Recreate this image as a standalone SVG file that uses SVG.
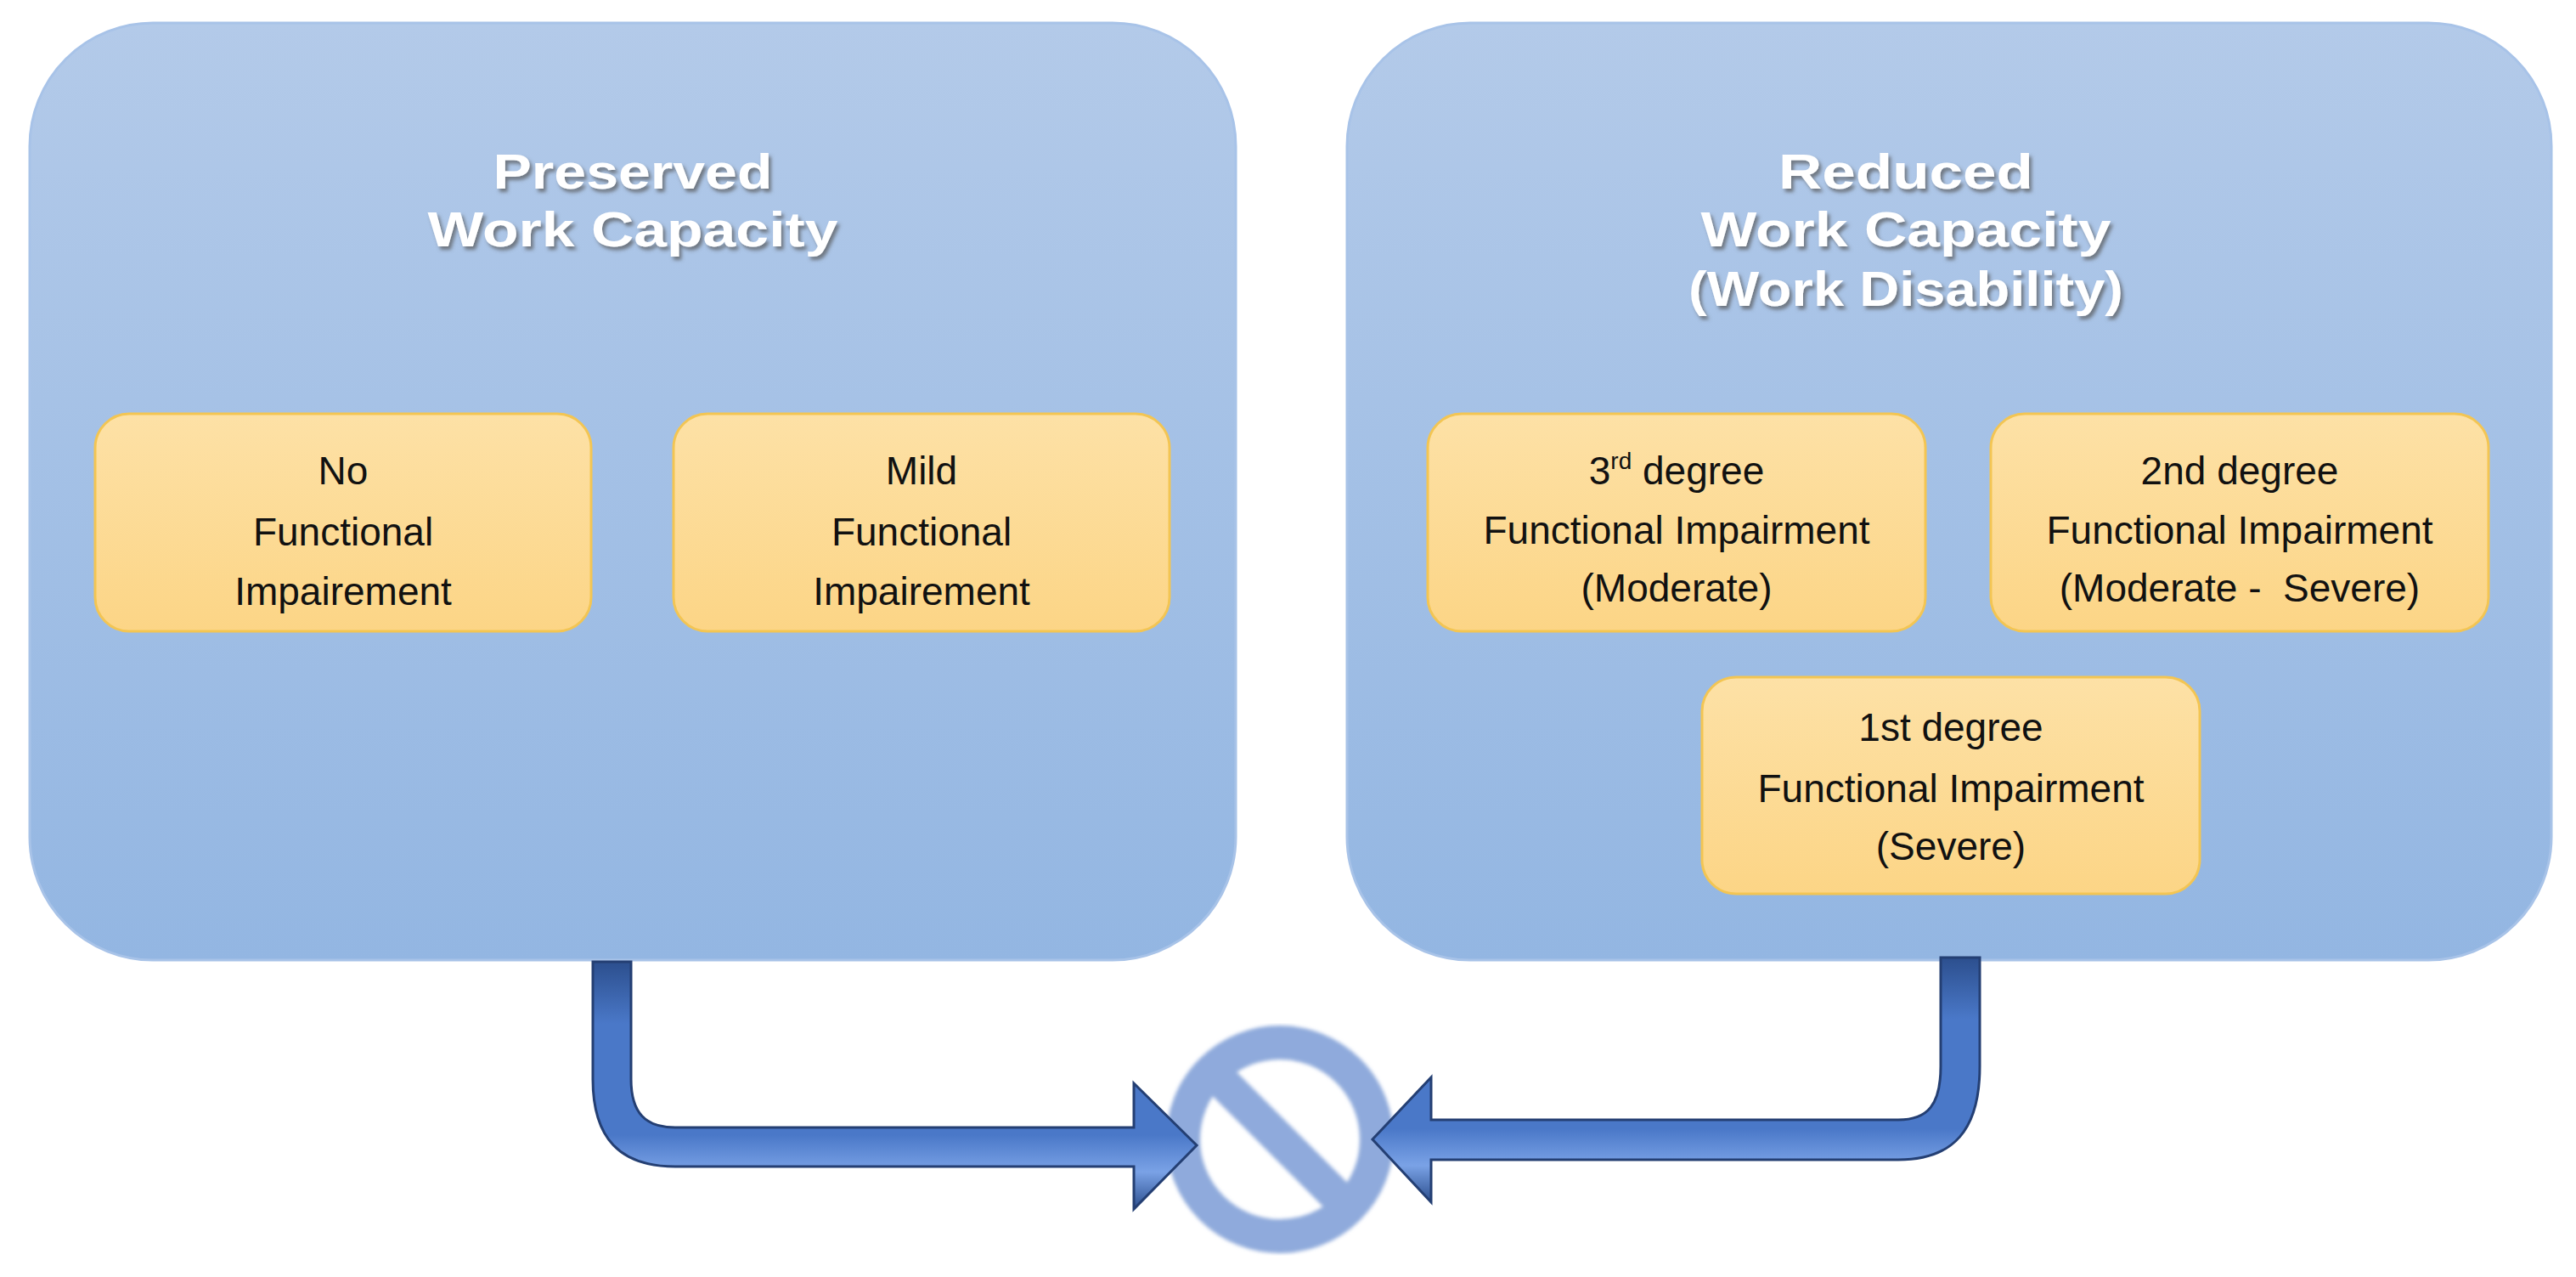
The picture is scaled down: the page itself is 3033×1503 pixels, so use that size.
<svg xmlns="http://www.w3.org/2000/svg" width="3033" height="1503" viewBox="0 0 3033 1503">
<defs>
<linearGradient id="pg" x1="0" y1="0" x2="0" y2="1"><stop offset="0" stop-color="#b3cae9"/><stop offset="1" stop-color="#93b6e2"/></linearGradient>
<linearGradient id="yg" x1="0" y1="0" x2="0" y2="1"><stop offset="0" stop-color="#fde1a6"/><stop offset="1" stop-color="#fcd586"/></linearGradient>
<linearGradient id="ag" x1="0" y1="0" x2="0" y2="1"><stop offset="0" stop-color="#2c4f8e"/><stop offset="0.25" stop-color="#4a78c8"/><stop offset="0.7" stop-color="#4a78c8"/><stop offset="0.85" stop-color="#7aa2e6"/><stop offset="1" stop-color="#2c4f8e"/></linearGradient>
<linearGradient id="agv" x1="0" y1="0" x2="1" y2="0"><stop offset="0" stop-color="#2c4f8e"/><stop offset="0.25" stop-color="#4a78c8"/><stop offset="0.7" stop-color="#4a78c8"/><stop offset="0.85" stop-color="#7aa2e6"/><stop offset="1" stop-color="#2c4f8e"/></linearGradient>
<filter id="sh" x="-10%" y="-20%" width="120%" height="150%"><feDropShadow dx="3" dy="4" stdDeviation="2" flood-color="#555" flood-opacity="0.7"/></filter>
<filter id="bl"><feGaussianBlur stdDeviation="2"/></filter>
</defs>
<style>
.panel{fill:url(#pg);stroke:#a8c3e8;stroke-width:3}
.box{fill:url(#yg);stroke:#f3c553;stroke-width:3}
.title{font-family:"Liberation Sans",Arial,sans-serif;font-weight:bold;font-size:58px;fill:#fff;text-anchor:middle;filter:url(#sh)}
.lbl{font-family:"Liberation Sans",Arial,sans-serif;font-size:46px;fill:#111;text-anchor:middle}
.arrow{stroke:#243f73;stroke-width:3;stroke-linejoin:miter}
</style>
<g id="preserved">
<rect class="panel" x="35" y="27" width="1420" height="1103" rx="145"/>
<text class="title" x="745" y="222" textLength="329" lengthAdjust="spacingAndGlyphs">Preserved</text>
<text class="title" x="745" y="290" textLength="483" lengthAdjust="spacingAndGlyphs">Work Capacity</text>
</g>
<g id="reduced">
<rect class="panel" x="1586" y="27" width="1418" height="1103" rx="145"/>
<text class="title" x="2244" y="222" textLength="300" lengthAdjust="spacingAndGlyphs">Reduced</text>
<text class="title" x="2244" y="290" textLength="483" lengthAdjust="spacingAndGlyphs">Work Capacity</text>
<text class="title" x="2244" y="360" textLength="512" lengthAdjust="spacingAndGlyphs">(Work Disability)</text>
</g>
<g id="no-impairment">
<rect class="box" x="112" y="487" width="584" height="256" rx="40"/>
<text class="lbl" x="404" y="570">No</text>
<text class="lbl" x="404" y="642">Functional</text>
<text class="lbl" x="404" y="712">Impairement</text>
</g>
<g id="mild-impairment">
<rect class="box" x="793" y="487" width="584" height="256" rx="40"/>
<text class="lbl" x="1085" y="570">Mild</text>
<text class="lbl" x="1085" y="642">Functional</text>
<text class="lbl" x="1085" y="712">Impairement</text>
</g>
<g id="third-degree">
<rect class="box" x="1681" y="487" width="586" height="256" rx="40"/>
<text class="lbl" x="1974" y="570">3<tspan font-size="28" dy="-18">rd</tspan><tspan dy="18"> degree</tspan></text>
<text class="lbl" x="1974" y="640">Functional Impairment</text>
<text class="lbl" x="1974" y="708">(Moderate)</text>
</g>
<g id="second-degree">
<rect class="box" x="2344" y="487" width="586" height="256" rx="40"/>
<text class="lbl" x="2637" y="570">2nd degree</text>
<text class="lbl" x="2637" y="640">Functional Impairment</text>
<text class="lbl" x="2637" y="708" xml:space="preserve">(Moderate -  Severe)</text>
</g>
<g id="first-degree">
<rect class="box" x="2004" y="797" width="586" height="255" rx="40"/>
<text class="lbl" x="2297" y="872">1st degree</text>
<text class="lbl" x="2297" y="944">Functional Impairment</text>
<text class="lbl" x="2297" y="1012">(Severe)</text>
</g>
<g id="prohibited" filter="url(#bl)">
<circle cx="1507" cy="1341" r="114" fill="none" stroke="#8faadc" stroke-width="40"/>
<line x1="1427" y1="1261" x2="1587" y2="1421" stroke="#8faadc" stroke-width="40"/>
</g>
<g id="connectors">
<path class="arrow" fill="url(#ag)" d="M698,1132 L698,1270 C698,1340 730,1373 795,1373 L1335,1373 L1335,1423 L1409,1348 L1335,1275 L1335,1327 L795,1327 C760,1327 743,1310 743,1270 L743,1132 Z"/>
<path class="arrow" fill="url(#ag)" d="M2331,1127 L2331,1255 C2331,1330 2300,1365 2235,1365 L1685,1365 L1685,1415 L1616,1341 L1685,1268 L1685,1318 L2235,1318 C2270,1318 2285,1300 2285,1255 L2285,1127 Z"/>
</g>
</svg>
